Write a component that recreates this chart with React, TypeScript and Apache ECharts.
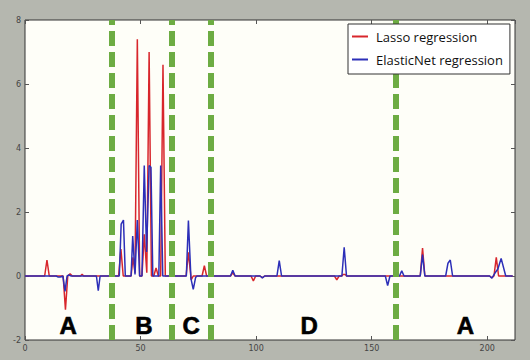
import React, { useEffect, useRef } from "react";
import * as echarts from "echarts";

// Lasso regression coefficients (polyline vertices: x position, value)
const lassoX = [0, 8.5, 9.5, 10.5, 16.5, 17.5, 18.5, 19.5, 20.5, 24, 24.7, 25.4, 40.5, 41.5, 42.5, 45.9, 46.7, 47.6, 48.6, 49.6, 50.6, 51.6, 52.7, 53.7, 54.7, 55.7, 56.7, 57.7, 58.7, 59.7, 60.7, 69.7, 70.7, 71.9, 72.8, 76.6, 77.6, 78.6, 88.9, 89.9, 90.9, 97.8, 98.8, 99.8, 101.7, 102.7, 103.7, 133.9, 134.9, 135.9, 137.1, 137.6, 138.6, 139.1, 171, 172, 173, 201, 202, 202.9, 203.9, 204.9, 211];
const lassoY = [0, 0, 0.5, 0, 0, -1.05, 0, 0.07, 0, 0, 0.05, 0, 0, 0.84, 0, 0, 0.58, 0.1, 7.4, 0, 0, 1.3, 0.1, 7.0, 0, 0, 0.25, 0, 0, 6.6, 0, 0, 0.74, -0.12, 0, 0, 0.32, 0, 0, 0.1, 0, 0, -0.15, 0, 0, -0.05, 0, 0, -0.12, 0, 0, 0.05, 0.05, 0, 0, 0.87, 0, 0, -0.05, 0, 0.58, 0, 0];

// ElasticNet regression coefficients
const enetX = [0, 13.5, 14.2, 15.2, 16.4, 17.3, 18.2, 19, 20, 30.9, 31.7, 32.5, 40.8, 41.6, 42.6, 43.4, 45.9, 46.6, 47.6, 48.6, 49.6, 50.6, 51.6, 52.6, 53.7, 54.5, 55.3, 57.9, 58.7, 59.6, 69.8, 70.7, 71.8, 72.8, 73.8, 74.4, 88.9, 89.9, 90.9, 101.7, 102.7, 103.7, 109, 110, 111, 137.1, 138.1, 139.1, 155.9, 156.9, 157.9, 162, 163, 164, 171, 172, 173, 182, 183, 184, 185, 201, 202, 203.4, 204.6, 206, 208, 211];
const enetY = [0, 0, -0.03, -0.03, 0, -0.48, 0, 0.03, 0, 0, -0.46, 0, 0, 1.62, 1.75, 0, 0, 1.25, 0.05, 1.75, 0, 0, 3.45, 0.75, 3.45, 3.4, 0, 0, 3.45, 0, 0, 1.73, -0.08, -0.42, -0.05, 0, 0, 0.18, 0, 0, -0.06, 0, 0, 0.48, 0, 0, 0.9, 0, 0, -0.3, 0, 0, 0.16, 0, 0, 0.67, 0, 0, 0.4, 0.5, 0, 0, -0.07, 0.1, 0.22, 0.55, 0, 0];

// Region boundaries and labels
const boundaries = [37.7, 63.6, 80.5, 160.2];
const regionLabels = ["A", "B", "C", "D", "A"];
const regionX = [18.7, 51.4, 71.9, 122.9, 190.6];
const regionY = -1.56;

const xTicks = { min: 0, max: 212, interval: 50 };
const yTicks = { min: -2, max: 8, interval: 2 };

export default function App() {
  const ref = useRef<HTMLDivElement>(null);
  useEffect(() => {
    if (!ref.current) return;
    const chart = echarts.init(ref.current, null, { renderer: "svg" });
    const tickLine = { inside: true, length: 4, lineStyle: { color: "#555" } };
    const labelStyle = { fontSize: 8, color: "#444", fontFamily: "DejaVu Sans" };
    chart.setOption({
      animation: false,
      backgroundColor: "#b5b7af",
      grid: {
        left: 25, right: 15, top: 20, bottom: 20, show: true,
        backgroundColor: "#fefef8", borderColor: "#333", borderWidth: 1,
      },
      legend: {
        data: ["Lasso regression", "ElasticNet regression"],
        orient: "vertical",
        left: 348, top: 24, z: 20,
        padding: [6, 7, 8, 4],
        itemGap: 10, itemWidth: 16, itemHeight: 2, icon: "rect",
        backgroundColor: "#ffffff", borderColor: "#333", borderWidth: 1,
        textStyle: { fontFamily: "Open Sans", fontSize: 13, color: "#111", padding: [0, 0, 0, 3] },
      },
      xAxis: [
        {
          type: "value", ...xTicks,
          axisLine: { show: false, onZero: false },
          axisTick: tickLine,
          axisLabel: { ...labelStyle, margin: 4, showMaxLabel: false },
          splitLine: { show: false },
        },
        {
          type: "value", position: "top", ...xTicks,
          axisLine: { show: false, onZero: false },
          axisTick: tickLine,
          axisLabel: { show: false },
          splitLine: { show: false },
        },
      ],
      yAxis: [
        {
          type: "value", ...yTicks,
          axisLine: { show: false, onZero: false },
          axisTick: tickLine,
          axisLabel: { ...labelStyle, margin: 4 },
          splitLine: { show: false },
        },
        {
          type: "value", position: "right", ...yTicks,
          axisLine: { show: false, onZero: false },
          axisTick: tickLine,
          axisLabel: { show: false },
          splitLine: { show: false },
        },
      ],
      series: [
        {
          name: "Lasso regression", type: "line", symbol: "none",
          color: "#d8262c",
          lineStyle: { width: 1.5, color: "#d8262c" },
          data: lassoX.map((x, i) => [x, lassoY[i]]),
          z: 2,
        },
        {
          name: "ElasticNet regression", type: "line", symbol: "none",
          color: "#2c2fb8",
          lineStyle: { width: 1.5, color: "#2c2fb8" },
          data: enetX.map((x, i) => [x, enetY[i]]),
          z: 3,
        },
        {
          name: "boundaries", type: "line", data: [], z: 4,
          markLine: {
            silent: true, symbol: "none", animation: false,
            label: { show: false },
            lineStyle: { color: "#6dac43", width: 6, type: [15, 6], opacity: 1 },
            data: boundaries.map((b) => ({ xAxis: b })),
          },
        },
        {
          name: "regions", type: "scatter", symbol: "circle", symbolSize: 0, z: 5,
          itemStyle: { color: "#000", opacity: 1 },
          label: {
            show: true, position: "inside", formatter: "{b}", opacity: 1,
            fontFamily: "Liberation Sans", fontWeight: 900, fontSize: 24, color: "#000",
            textBorderWidth: 0.6, textBorderColor: "#000",
          },
          data: regionLabels.map((l, i) => ({ name: l, value: [regionX[i], regionY] })),
        },
      ],
    });
    return () => chart.dispose();
  }, []);
  return <div ref={ref} style={{ position: "fixed", left: 0, top: 0, width: 530, height: 360 }} />;
}
